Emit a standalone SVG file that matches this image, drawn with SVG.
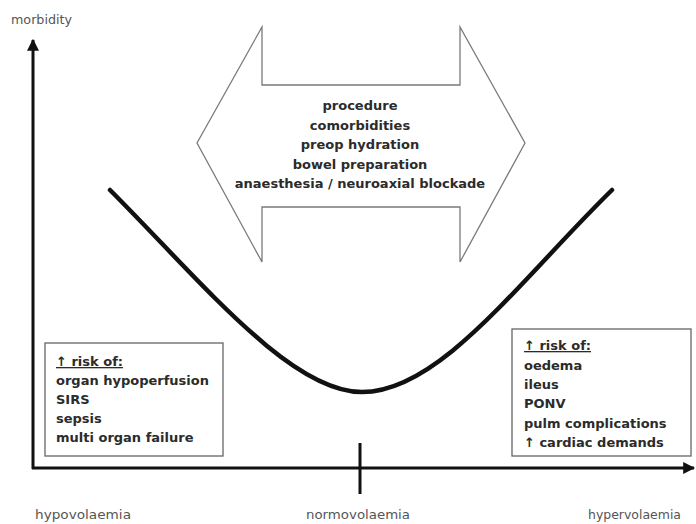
<svg xmlns="http://www.w3.org/2000/svg" width="696" height="524" viewBox="0 0 696 524">
  <style>
    .b { font-family: "DejaVu Sans", "Liberation Sans", sans-serif; font-weight: bold; font-size: 13px; fill: #2b2b2b; }
    .lab { font-family: "DejaVu Sans", "Liberation Sans", sans-serif; font-size: 12.5px; fill: #555; }
    .box { fill: #fff; stroke: #666; stroke-width: 1.3; }
    .ax { stroke: #111; stroke-width: 3; fill: none; }
  </style>
  <defs>
    <marker id="ah" viewBox="0 0 10 10" refX="9" refY="5" markerWidth="4" markerHeight="4" orient="auto" markerUnits="strokeWidth">
      <path d="M0,0 L10,5 L0,10 Z" fill="#111"/>
    </marker>
  </defs>
  <rect width="696" height="524" fill="#fff"/>

  <g id="factors">
    <path d="M197,143 L262,27 L262,85 L460,85 L460,27 L525,143 L460,262 L460,207 L262,207 L262,262 Z" fill="#fff" stroke="#7a7a7a" stroke-width="1.3" stroke-linejoin="miter"/>
    <g text-anchor="middle">
      <text class="b" x="360" y="110">procedure</text>
      <text class="b" x="360" y="129.5">comorbidities</text>
      <text class="b" x="360" y="149">preop hydration</text>
      <text class="b" x="360" y="168.5">bowel preparation</text>
      <text class="b" x="360" y="188">anaesthesia / neuroaxial blockade</text>
    </g>
  </g>

  <g id="curve">
    <path d="M110,190 C200,280 290,392 362,392 C440,392 520,280 612,190" fill="none" stroke="#111" stroke-width="4.5" stroke-linecap="round"/>
  </g>

  <g id="hypo-risks">
    <rect class="box" x="45" y="343" width="178" height="113"/>
    <text class="b" x="56" y="366" text-decoration="underline">↑ risk of:</text>
    <text class="b" x="56" y="385">organ hypoperfusion</text>
    <text class="b" x="56" y="404">SIRS</text>
    <text class="b" x="56" y="423">sepsis</text>
    <text class="b" x="56" y="442">multi organ failure</text>
  </g>

  <g id="hyper-risks">
    <rect class="box" x="512" y="329" width="179" height="127"/>
    <text class="b" x="524" y="350" text-decoration="underline">↑ risk of:</text>
    <text class="b" x="524" y="370">oedema</text>
    <text class="b" x="524" y="389">ileus</text>
    <text class="b" x="524" y="408">PONV</text>
    <text class="b" x="524" y="428">pulm complications</text>
    <text class="b" x="524" y="447">↑ cardiac demands</text>
  </g>

  <g id="connectors">
    <line class="ax" x1="33" y1="469" x2="33" y2="40" marker-end="url(#ah)"/>
    <line class="ax" x1="32" y1="468" x2="694" y2="468" marker-end="url(#ah)"/>
    <line class="ax" x1="360" y1="443" x2="360" y2="494"/>
  </g>

  <g id="labels">
    <text class="lab" x="11" y="24" textLength="61" lengthAdjust="spacingAndGlyphs">morbidity</text>
    <text class="lab" x="35" y="519" textLength="96" lengthAdjust="spacingAndGlyphs">hypovolaemia</text>
    <text class="lab" x="306" y="519" textLength="104" lengthAdjust="spacingAndGlyphs">normovolaemia</text>
    <text class="lab" x="588" y="519" textLength="93" lengthAdjust="spacingAndGlyphs">hypervolaemia</text>
  </g>
</svg>
